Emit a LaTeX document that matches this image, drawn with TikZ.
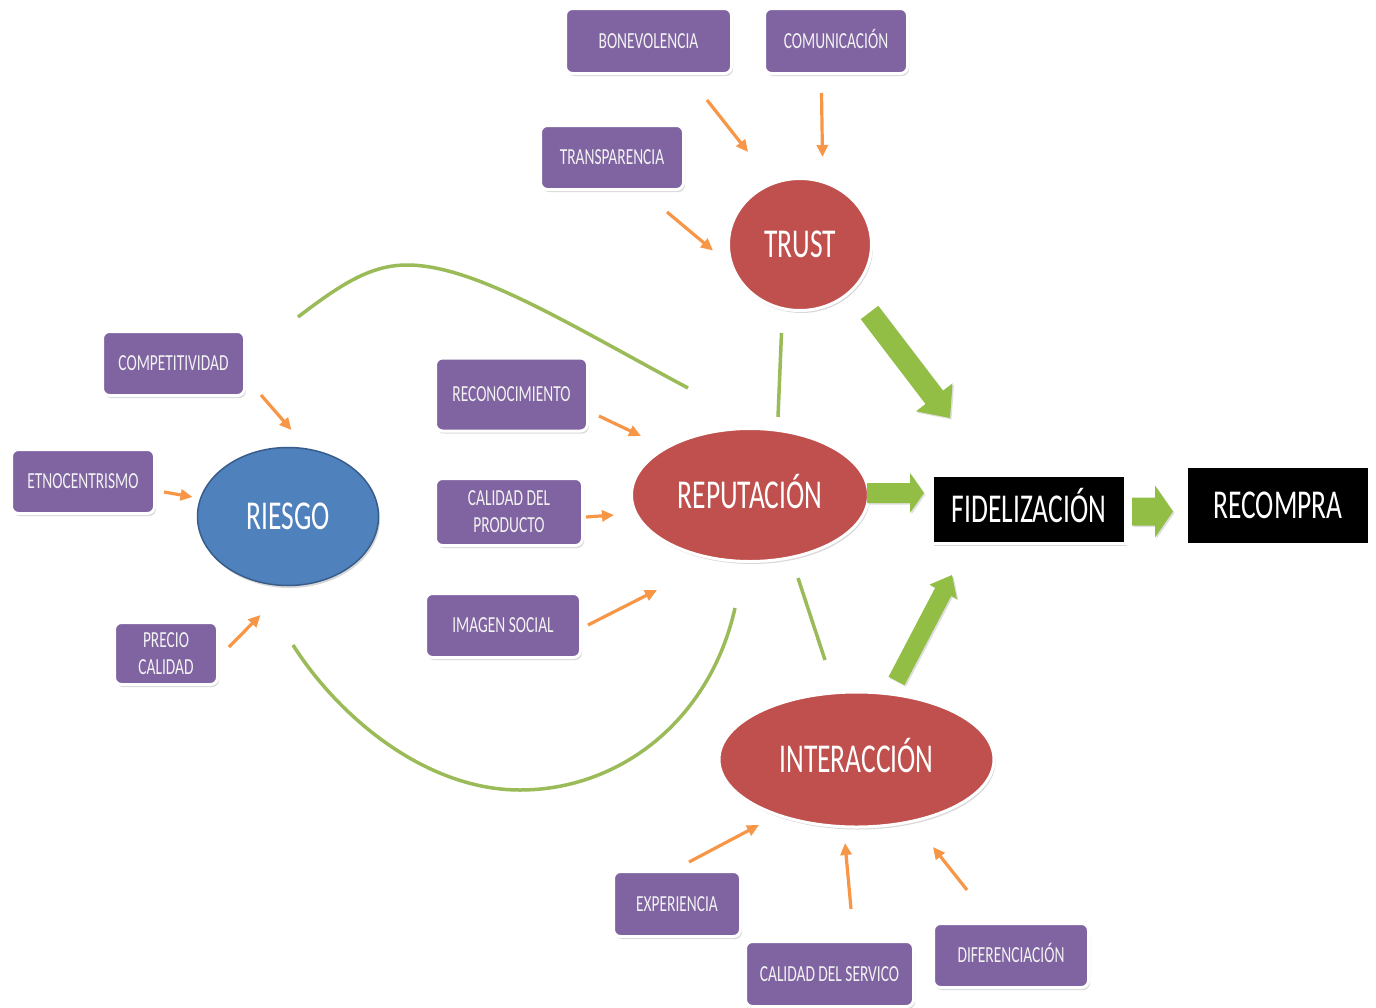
\documentclass[tikz,border=0pt]{standalone}
\usepackage{fontspec}
\setmainfont{Carlito}[FakeStretch=0.67]
\usetikzlibrary{arrows.meta,shadows,calc,shapes.geometric}
\definecolor{purp}{RGB}{128,100,162}
\definecolor{redn}{RGB}{192,80,77}
\definecolor{bluen}{RGB}{79,129,189}
\definecolor{blueb}{RGB}{56,93,138}
\definecolor{orng}{RGB}{247,150,70}
\definecolor{grn}{RGB}{155,187,89}
\definecolor{grnarr}{RGB}{146,190,70}
\definecolor{boxtext}{RGB}{242,242,242}
\newcommand\blkarrow[5]{%
  \coordinate (bm) at ($(#2)!#5!(#1)$);
  \fill[garrow] ($(#1)!#3!90:(#2)$) -- ($(bm)!#3!90:(#2)$) -- ($(bm)!#4!90:(#2)$) -- (#2)
    -- ($(bm)!#4!-90:(#2)$) -- ($(bm)!#3!-90:(#2)$) -- ($(#1)!#3!-90:(#2)$) -- cycle;
}
\begin{document}
\begin{tikzpicture}[x=1pt,y=-1pt,
  shad/.style={drop shadow={opacity=0.3, shadow xshift=1.5pt, shadow yshift=-2.5pt}},
  box/.style={rectangle, rounded corners=7pt, fill=purp, draw=white, line width=3pt,
    text=boxtext, font=\fontsize{23}{27}\selectfont, align=center, inner sep=0pt, shad},
  box1/.style={box, text height=14.5pt, text depth=0pt},
  ell/.style={ellipse, fill=redn, draw=white, line width=3pt, text=white,
    font=\fontsize{41}{48}\selectfont, inner sep=0pt, text height=26pt, text depth=0pt, shad},
  riesgo/.style={ellipse, fill=bluen, draw=blueb, line width=1.5pt, text=white,
    font=\fontsize{41}{48}\selectfont, inner sep=0pt, text height=26pt, text depth=0pt, shad},
  fidbox/.style={rectangle, fill=black, draw=white, line width=3pt, text=white,
    font=\fontsize{41}{48}\selectfont, inner sep=0pt, text height=26pt, text depth=0pt, shad},
  recbox/.style={rectangle, fill=black, text=white,
    font=\fontsize{41}{48}\selectfont, inner sep=0pt, text height=26pt, text depth=0pt},
  oarr/.style={draw=orng, line width=3.2pt, -{Triangle[length=12pt,width=11pt]}},
  gline/.style={draw=grn, line width=3.5pt},
  garrow/.style={fill=grnarr, drop shadow={opacity=0.25, shadow xshift=1.5pt, shadow yshift=-1.5pt}}
]
\path[use as bounding box, fill=white] (0,0) rectangle (1376,1007);

% green curves and lines
\coordinate (c1a) at (298,317);
\coordinate (c1m) at (407,265);
\coordinate (c1b) at (688,388);
\draw[gline] (c1a) .. controls (340,285) and (370,265) .. (c1m) .. controls (475,265) and (570,325) .. (c1b);
\coordinate (c2a) at (293,645);
\coordinate (c2m) at (520,790);
\coordinate (c2b) at (735,608);
\draw[gline] (c2a) .. controls (338,716) and (425,790) .. (c2m) .. controls (620,790) and (710,720) .. (c2b);
\coordinate (l1a) at (781.5,333); \coordinate (l1b) at (778,417);
\draw[gline] (l1a) -- (l1b);
\coordinate (l2a) at (798,578); \coordinate (l2b) at (825,660);
\draw[gline] (l2a) -- (l2b);

% purple boxes
\node[box1, minimum width=166pt, minimum height=65pt] (bon) at (648.5,41) {BONEVOLENCIA};
\node[box1, minimum width=143pt, minimum height=65pt] (com) at (836,41) {COMUNICACIÓN};
\node[box1, minimum width=143pt, minimum height=64pt] (tra) at (612,157.5) {TRANSPARENCIA};
\node[box1, minimum width=142pt, minimum height=64pt] (cpt) at (173.5,363.5) {COMPETITIVIDAD};
\node[box1, minimum width=143pt, minimum height=64pt] (etn) at (83,481.5) {ETNOCENTRISMO};
\node[box, minimum width=103pt, minimum height=62pt] (pre) at (166,653.5) {PRECIO\\CALIDAD};
\node[box1, minimum width=152pt, minimum height=73pt] (rec) at (511.5,394.5) {RECONOCIMIENTO};
\node[box, minimum width=147pt, minimum height=67pt] (cdp) at (509,512) {CALIDAD DEL\\PRODUCTO};
\node[box1, minimum width=155pt, minimum height=64pt] (ims) at (503,625.5) {IMAGEN SOCIAL};
\node[box1, minimum width=127pt, minimum height=65pt] (exp) at (677,904) {EXPERIENCIA};
\node[box1, minimum width=168pt, minimum height=65pt] (cds) at (829.5,974) {CALIDAD DEL SERVICO};
\node[box1, minimum width=155pt, minimum height=64pt] (dif) at (1011,955.5) {DIFERENCIACIÓN};

% main nodes
\node[ell, minimum width=143pt, minimum height=132pt] (tru) at (800,244.5) {TRUST};
\node[ell, minimum width=237pt, minimum height=133pt] (rep) at (750,495) {REPUTACIÓN};
\node[riesgo, minimum width=181pt, minimum height=138pt] (rie) at (288,516.5) {RIESGO};
\node[ell, minimum width=275pt, minimum height=135pt] (int) at (856.5,759.5) {INTERACCIÓN};
\node[fidbox, minimum width=193pt, minimum height=68pt] (fid) at (1029,509.5) {FIDELIZACIÓN};
\node[recbox, minimum width=180pt, minimum height=75pt] (rcp) at (1278,505.5) {RECOMPRA};

% green block arrows
\coordinate (g1a) at (869.5,312.5); \coordinate (g1b) at (950,418);
\blkarrow{g1a}{g1b}{11pt}{23pt}{26pt}
\coordinate (g2a) at (867,493); \coordinate (g2b) at (924,493);
\blkarrow{g2a}{g2b}{10pt}{20pt}{14pt}
\coordinate (g3a) at (1132,511.5); \coordinate (g3b) at (1173,511.5);
\blkarrow{g3a}{g3b}{14pt}{26pt}{18pt}
\coordinate (g4a) at (896.5,681); \coordinate (g4b) at (952,575);
\blkarrow{g4a}{g4b}{9pt}{15.5pt}{19pt}

% orange arrows
\coordinate (o1a) at (707,100); \coordinate (o1b) at (748,152);
\draw[oarr] (o1a) -- (o1b);
\coordinate (o2a) at (821.5,93); \coordinate (o2b) at (822.5,157);
\draw[oarr] (o2a) -- (o2b);
\coordinate (o3a) at (667,212); \coordinate (o3b) at (713,250.5);
\draw[oarr] (o3a) -- (o3b);
\coordinate (o4a) at (261,395); \coordinate (o4b) at (291.5,430);
\draw[oarr] (o4a) -- (o4b);
\coordinate (o5a) at (164,492); \coordinate (o5b) at (192.5,497);
\draw[oarr] (o5a) -- (o5b);
\coordinate (o6a) at (229,647); \coordinate (o6b) at (260.5,615);
\draw[oarr] (o6a) -- (o6b);
\coordinate (o7a) at (599,416); \coordinate (o7b) at (641,436);
\draw[oarr] (o7a) -- (o7b);
\coordinate (o8a) at (586,517); \coordinate (o8b) at (614,515);
\draw[oarr] (o8a) -- (o8b);
\coordinate (o9a) at (588,625); \coordinate (o9b) at (657,590);
\draw[oarr] (o9a) -- (o9b);
\coordinate (o10a) at (689,862); \coordinate (o10b) at (759,825);
\draw[oarr] (o10a) -- (o10b);
\coordinate (o11a) at (851,909); \coordinate (o11b) at (845,843);
\draw[oarr] (o11a) -- (o11b);
\coordinate (o12a) at (967,890); \coordinate (o12b) at (933,847);
\draw[oarr] (o12a) -- (o12b);
\end{tikzpicture}
\end{document}
